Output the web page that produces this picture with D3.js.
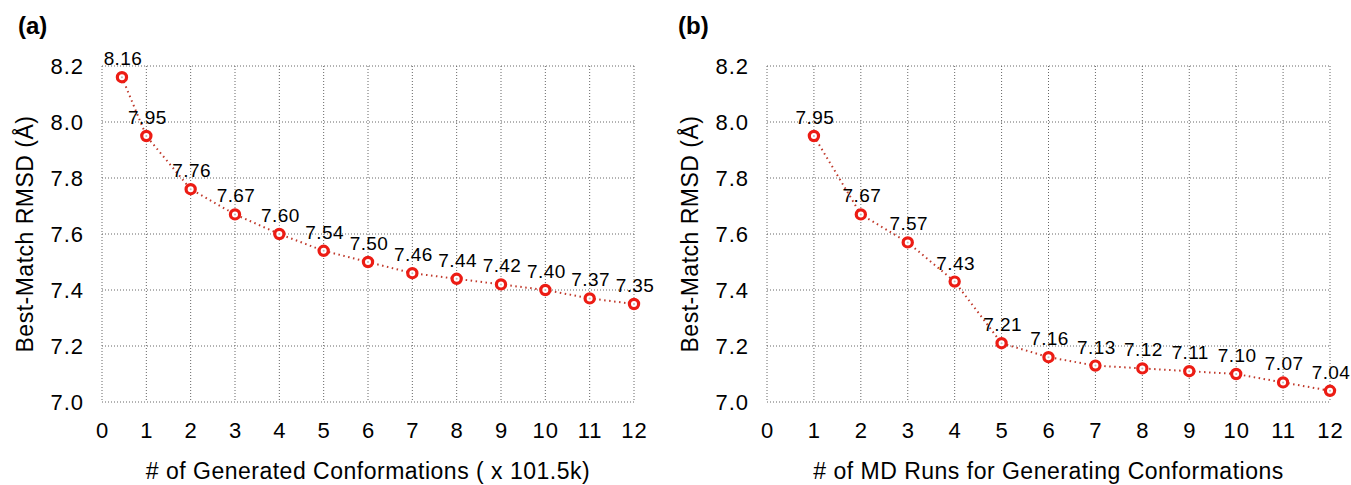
<!DOCTYPE html>
<html>
<head>
<meta charset="utf-8">
<script src="https://cdn.jsdelivr.net/npm/d3@7"></script>
<style>
  body { margin: 0; background: #fff; }
  svg { font-family: "Liberation Sans", Arial, Helvetica, sans-serif; }
</style>
</head>
<body>
<svg id="chart" width="1351" height="485"></svg>
<script>
// panel (a)
const xA = [0.45, 1, 2, 3, 4, 5, 6, 7, 8, 9, 10, 11, 12];
const yA = [8.16, 7.95, 7.76, 7.67, 7.60, 7.54, 7.50, 7.46, 7.44, 7.42, 7.40, 7.37, 7.35];
// panel (b)
const xB = [1, 2, 3, 4, 5, 6, 7, 8, 9, 10, 11, 12];
const yB = [7.95, 7.67, 7.57, 7.43, 7.21, 7.16, 7.13, 7.12, 7.11, 7.10, 7.07, 7.04];

const xTicks = d3.range(0, 13);
const yTicks = [7.0, 7.2, 7.4, 7.6, 7.8, 8.0, 8.2];

const svg = d3.select("#chart");

function drawPanel(opt) {
    const x = d3.scaleLinear().domain([0, 12]).range([opt.left, opt.right]);
    const y = d3.scaleLinear().domain([7.0, 8.2]).range([402, 66]);
    const g = svg.append("g");

    // grid (dotted)
    g.selectAll(".vgrid").data(xTicks).enter().append("line")
        .attr("x1", d => x(d)).attr("x2", d => x(d))
        .attr("y1", y(8.2)).attr("y2", y(7.0))
        .attr("stroke", "#666").attr("stroke-width", 1)
        .attr("stroke-dasharray", "1,2");
    g.selectAll(".hgrid").data(yTicks).enter().append("line")
        .attr("x1", x(0)).attr("x2", x(12))
        .attr("y1", d => y(d)).attr("y2", d => y(d))
        .attr("stroke", "#666").attr("stroke-width", 1)
        .attr("stroke-dasharray", "1,2");

    // tick labels
    g.selectAll(".ytl").data(yTicks).enter().append("text")
        .attr("x", x(0) - 18).attr("y", d => y(d)).attr("dy", "0.35em")
        .attr("text-anchor", "end").attr("font-size", "22px")
        .attr("letter-spacing", "1px")
        .text(d => d.toFixed(1));
    g.selectAll(".xtl").data(xTicks).enter().append("text")
        .attr("x", d => x(d) + 0.5).attr("y", 438)
        .attr("text-anchor", "middle").attr("font-size", "22px")
        .attr("letter-spacing", "1px")
        .text(d => d);

    // axis titles
    g.append("text")
        .attr("x", (x(0) + x(12)) / 2).attr("y", 479)
        .attr("text-anchor", "middle").attr("font-size", "23px")
        .attr("letter-spacing", "0.5px")
        .text(opt.xTitle);
    g.append("text")
        .attr("transform", `translate(${opt.yTitleX},${(y(7.0) + y(8.2)) / 2}) rotate(-90)`)
        .attr("text-anchor", "middle").attr("font-size", "23px")
        .attr("letter-spacing", "0.5px")
        .text("Best-Match RMSD (Å)");

    // panel label
    g.append("text")
        .attr("x", opt.labelX).attr("y", 34)
        .attr("font-size", "24px").attr("font-weight", "bold")
        .text(opt.label);

    const pts = opt.xs.map((d, i) => [d, opt.ys[i]]);

    g.append("path")
        .datum(pts)
        .attr("fill", "none")
        .attr("stroke", "#c0392b")
        .attr("stroke-width", 2)
        .attr("stroke-dasharray", "1.5,3.5")
        .attr("d", d3.line().x(d => x(d[0])).y(d => y(d[1])));

    g.selectAll(".pt").data(pts).enter().append("circle")
        .attr("cx", d => x(d[0])).attr("cy", d => y(d[1]))
        .attr("r", 4.6)
        .attr("fill", "#fff")
        .attr("stroke", "#ec1c14").attr("stroke-width", 3.2);
    g.selectAll(".ptc").data(pts).enter().append("circle")
        .attr("cx", d => x(d[0])).attr("cy", d => y(d[1]))
        .attr("r", 1)
        .attr("fill", "#bbb");

    g.selectAll(".lbl").data(pts).enter().append("text")
        .attr("x", d => x(d[0]) + 1).attr("y", d => y(d[1]) - 12)
        .attr("text-anchor", "middle").attr("font-size", "19px")
        .attr("letter-spacing", "0.4px")
        .text(d => d[1].toFixed(2));
}

drawPanel({
    left: 102, right: 634, xs: xA, ys: yA, label: "(a)", labelX: 18, yTitleX: 33,
    xTitle: "# of Generated Conformations ( x 101.5k)"
});
drawPanel({
    left: 767, right: 1330, xs: xB, ys: yB, label: "(b)", labelX: 678, yTitleX: 698,
    xTitle: "# of MD Runs for Generating Conformations"
});
</script>
</body>
</html>
